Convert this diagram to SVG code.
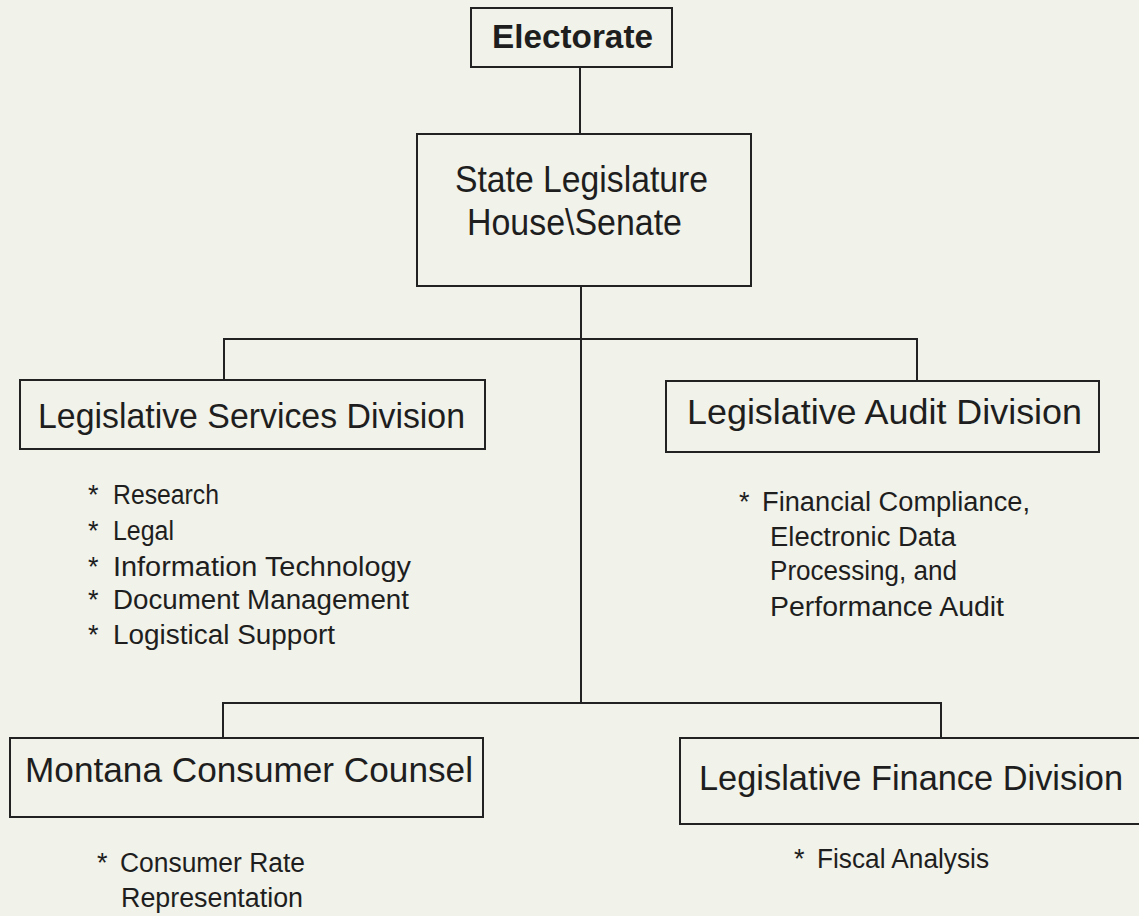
<svg xmlns="http://www.w3.org/2000/svg" width="1139" height="916" viewBox="0 0 1139 916">
<style>
  .box { fill: none; stroke: #222; stroke-width: 2; }
  .conn { fill: none; stroke: #222; stroke-width: 2; }
  .lbl { font-family: "Liberation Sans", Arial, sans-serif; fill: #1e1e1e; }
  .main { font-size: 35px; }
  .item { font-size: 27px; }
</style>
<rect x="0" y="0" width="1139" height="916" fill="#f1f2e9"/>
<g id="connectors">
  <path class="conn" d="M580 67 V134"/>
  <path class="conn" d="M581 286 V703"/>
  <path class="conn" d="M224 380 V339 H917 V381"/>
  <path class="conn" d="M223 738 V703 H941 V738"/>
</g>
<g id="electorate">
  <rect class="box" x="471" y="8" width="201" height="59"/>
  <text class="lbl" x="492" y="48" font-size="33" font-weight="bold" textLength="161" lengthAdjust="spacingAndGlyphs">Electorate</text>
</g>
<g id="state-legislature">
  <rect class="box" x="417" y="134" width="334" height="152"/>
  <text class="lbl" x="455" y="192" font-size="37" textLength="253" lengthAdjust="spacingAndGlyphs">State Legislature</text>
  <text class="lbl" x="467" y="235" font-size="37" textLength="215" lengthAdjust="spacingAndGlyphs">House\Senate</text>
</g>
<g id="legislative-services">
  <rect class="box" x="20" y="380" width="465" height="69"/>
  <text class="lbl main" x="38" y="428" textLength="427" lengthAdjust="spacingAndGlyphs">Legislative Services Division</text>
  <text class="lbl item" y="504"><tspan x="88">*</tspan><tspan x="113" textLength="106" lengthAdjust="spacingAndGlyphs">Research</tspan></text>
  <text class="lbl item" y="540"><tspan x="88">*</tspan><tspan x="113" textLength="61" lengthAdjust="spacingAndGlyphs">Legal</tspan></text>
  <text class="lbl item" y="576"><tspan x="88">*</tspan><tspan x="113" textLength="298" lengthAdjust="spacingAndGlyphs">Information Technology</tspan></text>
  <text class="lbl item" y="609"><tspan x="88">*</tspan><tspan x="113" textLength="296" lengthAdjust="spacingAndGlyphs">Document Management</tspan></text>
  <text class="lbl item" y="644"><tspan x="88">*</tspan><tspan x="113" textLength="222" lengthAdjust="spacingAndGlyphs">Logistical Support</tspan></text>
</g>
<g id="legislative-audit">
  <rect class="box" x="666" y="381" width="433" height="71"/>
  <text class="lbl main" x="687" y="424" textLength="395" lengthAdjust="spacingAndGlyphs">Legislative Audit Division</text>
  <text class="lbl item" y="511"><tspan x="739">*</tspan><tspan x="762" textLength="268" lengthAdjust="spacingAndGlyphs">Financial Compliance,</tspan></text>
  <text class="lbl item" x="770" y="546" textLength="186" lengthAdjust="spacingAndGlyphs">Electronic Data</text>
  <text class="lbl item" x="770" y="580" textLength="187" lengthAdjust="spacingAndGlyphs">Processing, and</text>
  <text class="lbl item" x="770" y="616" textLength="234" lengthAdjust="spacingAndGlyphs">Performance Audit</text>
</g>
<g id="consumer-counsel">
  <rect class="box" x="10" y="738" width="473" height="79"/>
  <text class="lbl main" x="25" y="782" textLength="448" lengthAdjust="spacingAndGlyphs">Montana Consumer Counsel</text>
  <text class="lbl item" y="872"><tspan x="97">*</tspan><tspan x="120" textLength="185" lengthAdjust="spacingAndGlyphs">Consumer Rate</tspan></text>
  <text class="lbl item" x="121" y="907" textLength="182" lengthAdjust="spacingAndGlyphs">Representation</text>
</g>
<g id="legislative-finance">
  <rect class="box" x="680" y="738" width="470" height="86"/>
  <text class="lbl main" x="699" y="790" textLength="424" lengthAdjust="spacingAndGlyphs">Legislative Finance Division</text>
  <text class="lbl item" y="868"><tspan x="794">*</tspan><tspan x="817" textLength="172" lengthAdjust="spacingAndGlyphs">Fiscal Analysis</tspan></text>
</g>
</svg>
